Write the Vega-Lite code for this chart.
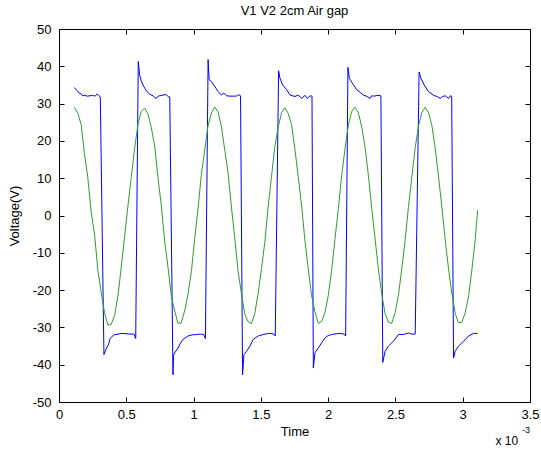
{
  "$schema": "https://vega.github.io/schema/vega-lite/v6.json",
  "width": 471,
  "height": 373,
  "autosize": "none",
  "padding": {"left": 59, "top": 29, "right": 11, "bottom": 51},
  "background": "white",
  "title": {
    "text": "V1 V2 2cm Air gap",
    "fontSize": 13,
    "fontWeight": "normal",
    "font": "Liberation Sans",
    "color": "black",
    "anchor": "middle",
    "offset": 5
  },
  "config": {
    "font": "Liberation Sans",
    "view": {"stroke": "black", "strokeWidth": 1},
    "axis": {
      "grid": false,
      "domain": false,
      "offset": -5,
      "tickColor": "black",
      "tickWidth": 1,
      "tickSize": 5,
      "labelColor": "black",
      "titleColor": "black",
      "labelFont": "Liberation Sans",
      "titleFont": "Liberation Sans",
      "labelFontSize": 13,
      "titleFontSize": 13,
      "titleFontWeight": "normal",
      "labelPadding": 8,
      "labelFlush": false,
      "labelOverlap": false
    }
  },
  "layer": [
    {
      "data": {"name": "signals"},
      "mark": {"type": "line", "strokeWidth": 1, "clip": true},
      "encoding": {
        "x": {
          "field": "t",
          "type": "quantitative",
          "scale": {"domain": [0, 3.5], "nice": false, "zero": false},
          "axis": {
            "orient": "bottom",
            "title": "Time",
            "labelPadding": 6,
            "titlePadding": 4,
            "values": [0, 0.5, 1, 1.5, 2, 2.5, 3, 3.5],
            "labelExpr": "'' + datum.value"
          }
        },
        "y": {
          "field": "v",
          "type": "quantitative",
          "scale": {"domain": [-50, 50], "nice": false, "zero": false},
          "axis": {
            "orient": "left",
            "title": "Voltage(V)",
            "titlePadding": 11,
            "values": [-50, -40, -30, -20, -10, 0, 10, 20, 30, 40, 50],
            "labelExpr": "'' + datum.value"
          }
        },
        "color": {
          "field": "series",
          "type": "nominal",
          "scale": {"domain": ["V1", "V2"], "range": ["#0000ff", "#2e9e2e"]},
          "legend": null
        }
      }
    },
    {
      "data": {"name": "signals"},
      "mark": {"type": "line", "opacity": 0},
      "encoding": {
        "x": {
          "field": "t",
          "type": "quantitative",
          "scale": {"domain": [0, 3.5], "nice": false, "zero": false},
          "axis": {"orient": "top", "labels": false, "title": null, "values": [0, 0.5, 1, 1.5, 2, 2.5, 3, 3.5]}
        },
        "y": {
          "field": "v",
          "type": "quantitative",
          "scale": {"domain": [-50, 50], "nice": false, "zero": false},
          "axis": {"orient": "right", "labels": false, "title": null, "values": [-50, -40, -30, -20, -10, 0, 10, 20, 30, 40, 50]}
        },
        "detail": {"field": "series", "type": "nominal"}
      }
    },
    {
      "data": {"values": [{"t": 3.243, "v": -60.5, "label": "x 10"}]},
      "mark": {"type": "text", "align": "left", "baseline": "middle", "fontSize": 12, "color": "black", "font": "Liberation Sans"},
      "encoding": {
        "x": {"field": "t", "type": "quantitative", "scale": {"domain": [0, 3.5], "nice": false, "zero": false}, "axis": null},
        "y": {"field": "v", "type": "quantitative", "scale": {"domain": [-50, 50], "nice": false, "zero": false}, "axis": null},
        "text": {"field": "label"}
      }
    },
    {
      "data": {"values": [{"t": 3.44, "v": -57.6, "label": "-3"}]},
      "mark": {"type": "text", "align": "left", "baseline": "middle", "fontSize": 9, "color": "black", "font": "Liberation Sans"},
      "encoding": {
        "x": {"field": "t", "type": "quantitative", "scale": {"domain": [0, 3.5], "nice": false, "zero": false}, "axis": null},
        "y": {"field": "v", "type": "quantitative", "scale": {"domain": [-50, 50], "nice": false, "zero": false}, "axis": null},
        "text": {"field": "label"}
      }
    }
  ],
  "resolve": {"axis": {"x": "independent", "y": "independent"}},
  "datasets": {
    "signals": [
      {"series": "V1", "t": 0.115, "v": 34.3},
      {"series": "V1", "t": 0.130, "v": 33.6},
      {"series": "V1", "t": 0.140, "v": 33.3},
      {"series": "V1", "t": 0.150, "v": 32.8},
      {"series": "V1", "t": 0.165, "v": 32.6},
      {"series": "V1", "t": 0.175, "v": 32.1},
      {"series": "V1", "t": 0.190, "v": 32.2},
      {"series": "V1", "t": 0.210, "v": 32.0},
      {"series": "V1", "t": 0.230, "v": 32.1},
      {"series": "V1", "t": 0.249, "v": 32.2},
      {"series": "V1", "t": 0.269, "v": 32.0},
      {"series": "V1", "t": 0.284, "v": 32.6},
      {"series": "V1", "t": 0.294, "v": 32.2},
      {"series": "V1", "t": 0.307, "v": 31.8},
      {"series": "V1", "t": 0.334, "v": -37.3},
      {"series": "V1", "t": 0.344, "v": -36.3},
      {"series": "V1", "t": 0.354, "v": -35.5},
      {"series": "V1", "t": 0.369, "v": -34.5},
      {"series": "V1", "t": 0.379, "v": -33.0},
      {"series": "V1", "t": 0.393, "v": -32.5},
      {"series": "V1", "t": 0.408, "v": -32.0},
      {"series": "V1", "t": 0.438, "v": -31.8},
      {"series": "V1", "t": 0.468, "v": -31.6},
      {"series": "V1", "t": 0.498, "v": -31.7},
      {"series": "V1", "t": 0.537, "v": -31.8},
      {"series": "V1", "t": 0.557, "v": -31.8},
      {"series": "V1", "t": 0.570, "v": -33.0},
      {"series": "V1", "t": 0.589, "v": 41.3},
      {"series": "V1", "t": 0.599, "v": 37.7},
      {"series": "V1", "t": 0.611, "v": 36.2},
      {"series": "V1", "t": 0.624, "v": 35.0},
      {"series": "V1", "t": 0.639, "v": 34.0},
      {"series": "V1", "t": 0.654, "v": 33.2},
      {"series": "V1", "t": 0.674, "v": 32.5},
      {"series": "V1", "t": 0.699, "v": 32.1},
      {"series": "V1", "t": 0.711, "v": 31.6},
      {"series": "V1", "t": 0.723, "v": 31.4},
      {"series": "V1", "t": 0.736, "v": 32.0},
      {"series": "V1", "t": 0.748, "v": 32.1},
      {"series": "V1", "t": 0.773, "v": 32.3},
      {"series": "V1", "t": 0.798, "v": 32.4},
      {"series": "V1", "t": 0.813, "v": 31.8},
      {"series": "V1", "t": 0.823, "v": 31.8},
      {"series": "V1", "t": 0.847, "v": -42.7},
      {"series": "V1", "t": 0.851, "v": -37.5},
      {"series": "V1", "t": 0.860, "v": -36.8},
      {"series": "V1", "t": 0.885, "v": -35.5},
      {"series": "V1", "t": 0.903, "v": -34.2},
      {"series": "V1", "t": 0.922, "v": -33.2},
      {"series": "V1", "t": 0.959, "v": -32.3},
      {"series": "V1", "t": 0.990, "v": -32.0},
      {"series": "V1", "t": 1.021, "v": -31.9},
      {"series": "V1", "t": 1.050, "v": -31.8},
      {"series": "V1", "t": 1.076, "v": -31.9},
      {"series": "V1", "t": 1.088, "v": -33.0},
      {"series": "V1", "t": 1.108, "v": 41.8},
      {"series": "V1", "t": 1.116, "v": 36.4},
      {"series": "V1", "t": 1.133, "v": 35.9},
      {"series": "V1", "t": 1.158, "v": 34.6},
      {"series": "V1", "t": 1.183, "v": 33.2},
      {"series": "V1", "t": 1.207, "v": 32.3},
      {"series": "V1", "t": 1.225, "v": 32.8},
      {"series": "V1", "t": 1.245, "v": 32.1},
      {"series": "V1", "t": 1.270, "v": 32.0},
      {"series": "V1", "t": 1.295, "v": 32.0},
      {"series": "V1", "t": 1.320, "v": 32.0},
      {"series": "V1", "t": 1.331, "v": 32.4},
      {"series": "V1", "t": 1.349, "v": 32.1},
      {"series": "V1", "t": 1.364, "v": -42.7},
      {"series": "V1", "t": 1.374, "v": -37.3},
      {"series": "V1", "t": 1.394, "v": -36.4},
      {"series": "V1", "t": 1.419, "v": -35.0},
      {"series": "V1", "t": 1.444, "v": -33.2},
      {"series": "V1", "t": 1.480, "v": -32.3},
      {"series": "V1", "t": 1.518, "v": -31.9},
      {"series": "V1", "t": 1.545, "v": -31.7},
      {"series": "V1", "t": 1.568, "v": -31.6},
      {"series": "V1", "t": 1.597, "v": -31.8},
      {"series": "V1", "t": 1.607, "v": -32.3},
      {"series": "V1", "t": 1.632, "v": 38.8},
      {"series": "V1", "t": 1.642, "v": 36.8},
      {"series": "V1", "t": 1.662, "v": 35.0},
      {"series": "V1", "t": 1.692, "v": 33.7},
      {"series": "V1", "t": 1.717, "v": 32.3},
      {"series": "V1", "t": 1.753, "v": 31.9},
      {"series": "V1", "t": 1.778, "v": 32.3},
      {"series": "V1", "t": 1.803, "v": 31.4},
      {"series": "V1", "t": 1.828, "v": 32.2},
      {"series": "V1", "t": 1.846, "v": 31.4},
      {"series": "V1", "t": 1.866, "v": 32.1},
      {"series": "V1", "t": 1.880, "v": 32.0},
      {"series": "V1", "t": 1.890, "v": -40.9},
      {"series": "V1", "t": 1.902, "v": -36.8},
      {"series": "V1", "t": 1.927, "v": -35.5},
      {"series": "V1", "t": 1.952, "v": -34.1},
      {"series": "V1", "t": 1.977, "v": -32.8},
      {"series": "V1", "t": 2.000, "v": -32.2},
      {"series": "V1", "t": 2.026, "v": -31.9},
      {"series": "V1", "t": 2.060, "v": -31.7},
      {"series": "V1", "t": 2.089, "v": -31.6},
      {"series": "V1", "t": 2.118, "v": -31.8},
      {"series": "V1", "t": 2.130, "v": -32.3},
      {"series": "V1", "t": 2.147, "v": 39.7},
      {"series": "V1", "t": 2.158, "v": 36.8},
      {"series": "V1", "t": 2.188, "v": 35.0},
      {"series": "V1", "t": 2.213, "v": 33.7},
      {"series": "V1", "t": 2.238, "v": 33.0},
      {"series": "V1", "t": 2.262, "v": 32.3},
      {"series": "V1", "t": 2.290, "v": 31.9},
      {"series": "V1", "t": 2.312, "v": 31.4},
      {"series": "V1", "t": 2.324, "v": 32.1},
      {"series": "V1", "t": 2.345, "v": 32.0},
      {"series": "V1", "t": 2.362, "v": 32.2},
      {"series": "V1", "t": 2.392, "v": 32.1},
      {"series": "V1", "t": 2.406, "v": -39.4},
      {"series": "V1", "t": 2.423, "v": -36.4},
      {"series": "V1", "t": 2.448, "v": -35.0},
      {"series": "V1", "t": 2.486, "v": -33.7},
      {"series": "V1", "t": 2.523, "v": -31.9},
      {"series": "V1", "t": 2.560, "v": -31.9},
      {"series": "V1", "t": 2.597, "v": -31.5},
      {"series": "V1", "t": 2.622, "v": -31.8},
      {"series": "V1", "t": 2.647, "v": -31.8},
      {"series": "V1", "t": 2.676, "v": 38.5},
      {"series": "V1", "t": 2.689, "v": 36.8},
      {"series": "V1", "t": 2.714, "v": 35.0},
      {"series": "V1", "t": 2.746, "v": 33.2},
      {"series": "V1", "t": 2.784, "v": 32.2},
      {"series": "V1", "t": 2.810, "v": 31.9},
      {"series": "V1", "t": 2.833, "v": 31.4},
      {"series": "V1", "t": 2.850, "v": 31.9},
      {"series": "V1", "t": 2.870, "v": 32.1},
      {"series": "V1", "t": 2.895, "v": 31.4},
      {"series": "V1", "t": 2.908, "v": 32.1},
      {"series": "V1", "t": 2.918, "v": 32.0},
      {"series": "V1", "t": 2.932, "v": -38.2},
      {"series": "V1", "t": 2.944, "v": -36.4},
      {"series": "V1", "t": 2.969, "v": -35.0},
      {"series": "V1", "t": 3.007, "v": -33.7},
      {"series": "V1", "t": 3.044, "v": -32.3},
      {"series": "V1", "t": 3.081, "v": -31.6},
      {"series": "V1", "t": 3.111, "v": -31.6},

      {"series": "V2", "t": 0.115, "v": 29.0},
      {"series": "V2", "t": 0.140, "v": 27.4},
      {"series": "V2", "t": 0.165, "v": 24.3},
      {"series": "V2", "t": 0.189, "v": 16.6},
      {"series": "V2", "t": 0.214, "v": 10.2},
      {"series": "V2", "t": 0.239, "v": 1.0},
      {"series": "V2", "t": 0.264, "v": -5.0},
      {"series": "V2", "t": 0.289, "v": -14.8},
      {"series": "V2", "t": 0.314, "v": -20.7},
      {"series": "V2", "t": 0.338, "v": -26.0},
      {"series": "V2", "t": 0.363, "v": -29.4},
      {"series": "V2", "t": 0.388, "v": -29.2},
      {"series": "V2", "t": 0.413, "v": -26.8},
      {"series": "V2", "t": 0.438, "v": -21.6},
      {"series": "V2", "t": 0.462, "v": -14.0},
      {"series": "V2", "t": 0.487, "v": -5.8},
      {"series": "V2", "t": 0.512, "v": 2.5},
      {"series": "V2", "t": 0.537, "v": 10.2},
      {"series": "V2", "t": 0.562, "v": 18.0},
      {"series": "V2", "t": 0.587, "v": 24.5},
      {"series": "V2", "t": 0.611, "v": 27.9},
      {"series": "V2", "t": 0.636, "v": 28.8},
      {"series": "V2", "t": 0.661, "v": 27.2},
      {"series": "V2", "t": 0.686, "v": 23.6},
      {"series": "V2", "t": 0.711, "v": 18.6},
      {"series": "V2", "t": 0.736, "v": 10.0},
      {"series": "V2", "t": 0.760, "v": 2.8},
      {"series": "V2", "t": 0.785, "v": -6.8},
      {"series": "V2", "t": 0.810, "v": -13.9},
      {"series": "V2", "t": 0.835, "v": -21.7},
      {"series": "V2", "t": 0.860, "v": -25.6},
      {"series": "V2", "t": 0.884, "v": -28.9},
      {"series": "V2", "t": 0.909, "v": -28.8},
      {"series": "V2", "t": 0.934, "v": -25.5},
      {"series": "V2", "t": 0.959, "v": -21.0},
      {"series": "V2", "t": 0.984, "v": -15.0},
      {"series": "V2", "t": 1.009, "v": -6.0},
      {"series": "V2", "t": 1.033, "v": 1.8},
      {"series": "V2", "t": 1.058, "v": 11.0},
      {"series": "V2", "t": 1.083, "v": 17.6},
      {"series": "V2", "t": 1.108, "v": 24.2},
      {"series": "V2", "t": 1.133, "v": 27.5},
      {"series": "V2", "t": 1.157, "v": 29.1},
      {"series": "V2", "t": 1.182, "v": 27.8},
      {"series": "V2", "t": 1.207, "v": 23.8},
      {"series": "V2", "t": 1.232, "v": 17.5},
      {"series": "V2", "t": 1.257, "v": 11.2},
      {"series": "V2", "t": 1.282, "v": 2.0},
      {"series": "V2", "t": 1.306, "v": -6.0},
      {"series": "V2", "t": 1.331, "v": -15.0},
      {"series": "V2", "t": 1.356, "v": -21.0},
      {"series": "V2", "t": 1.381, "v": -26.5},
      {"series": "V2", "t": 1.406, "v": -28.5},
      {"series": "V2", "t": 1.430, "v": -29.0},
      {"series": "V2", "t": 1.455, "v": -26.3},
      {"series": "V2", "t": 1.480, "v": -20.8},
      {"series": "V2", "t": 1.505, "v": -14.2},
      {"series": "V2", "t": 1.530, "v": -7.0},
      {"series": "V2", "t": 1.555, "v": 2.6},
      {"series": "V2", "t": 1.579, "v": 10.4},
      {"series": "V2", "t": 1.604, "v": 18.5},
      {"series": "V2", "t": 1.629, "v": 23.7},
      {"series": "V2", "t": 1.654, "v": 27.6},
      {"series": "V2", "t": 1.679, "v": 28.9},
      {"series": "V2", "t": 1.703, "v": 27.4},
      {"series": "V2", "t": 1.728, "v": 24.4},
      {"series": "V2", "t": 1.753, "v": 17.8},
      {"series": "V2", "t": 1.778, "v": 10.3},
      {"series": "V2", "t": 1.803, "v": 2.6},
      {"series": "V2", "t": 1.828, "v": -6.9},
      {"series": "V2", "t": 1.852, "v": -14.2},
      {"series": "V2", "t": 1.877, "v": -21.5},
      {"series": "V2", "t": 1.902, "v": -25.8},
      {"series": "V2", "t": 1.927, "v": -28.9},
      {"series": "V2", "t": 1.952, "v": -28.4},
      {"series": "V2", "t": 1.977, "v": -25.9},
      {"series": "V2", "t": 2.001, "v": -21.4},
      {"series": "V2", "t": 2.026, "v": -14.7},
      {"series": "V2", "t": 2.051, "v": -6.2},
      {"series": "V2", "t": 2.076, "v": 1.9},
      {"series": "V2", "t": 2.101, "v": 10.9},
      {"series": "V2", "t": 2.125, "v": 17.8},
      {"series": "V2", "t": 2.150, "v": 24.3},
      {"series": "V2", "t": 2.175, "v": 27.9},
      {"series": "V2", "t": 2.200, "v": 29.0},
      {"series": "V2", "t": 2.225, "v": 27.5},
      {"series": "V2", "t": 2.250, "v": 23.7},
      {"series": "V2", "t": 2.274, "v": 18.4},
      {"series": "V2", "t": 2.299, "v": 10.8},
      {"series": "V2", "t": 2.324, "v": 1.8},
      {"series": "V2", "t": 2.349, "v": -6.3},
      {"series": "V2", "t": 2.374, "v": -14.6},
      {"series": "V2", "t": 2.398, "v": -20.9},
      {"series": "V2", "t": 2.423, "v": -26.3},
      {"series": "V2", "t": 2.448, "v": -28.6},
      {"series": "V2", "t": 2.473, "v": -28.9},
      {"series": "V2", "t": 2.498, "v": -26.0},
      {"series": "V2", "t": 2.523, "v": -21.2},
      {"series": "V2", "t": 2.547, "v": -14.3},
      {"series": "V2", "t": 2.572, "v": -6.7},
      {"series": "V2", "t": 2.597, "v": 2.4},
      {"series": "V2", "t": 2.622, "v": 10.3},
      {"series": "V2", "t": 2.647, "v": 18.2},
      {"series": "V2", "t": 2.671, "v": 23.9},
      {"series": "V2", "t": 2.696, "v": 27.6},
      {"series": "V2", "t": 2.721, "v": 29.0},
      {"series": "V2", "t": 2.746, "v": 27.6},
      {"series": "V2", "t": 2.771, "v": 24.1},
      {"series": "V2", "t": 2.796, "v": 17.9},
      {"series": "V2", "t": 2.820, "v": 10.5},
      {"series": "V2", "t": 2.845, "v": 2.3},
      {"series": "V2", "t": 2.870, "v": -6.6},
      {"series": "V2", "t": 2.895, "v": -14.4},
      {"series": "V2", "t": 2.920, "v": -21.1},
      {"series": "V2", "t": 2.944, "v": -26.2},
      {"series": "V2", "t": 2.969, "v": -28.8},
      {"series": "V2", "t": 2.994, "v": -28.6},
      {"series": "V2", "t": 3.019, "v": -26.0},
      {"series": "V2", "t": 3.044, "v": -21.5},
      {"series": "V2", "t": 3.068, "v": -14.6},
      {"series": "V2", "t": 3.093, "v": -6.4},
      {"series": "V2", "t": 3.111, "v": 1.4}
    ]
  }
}
